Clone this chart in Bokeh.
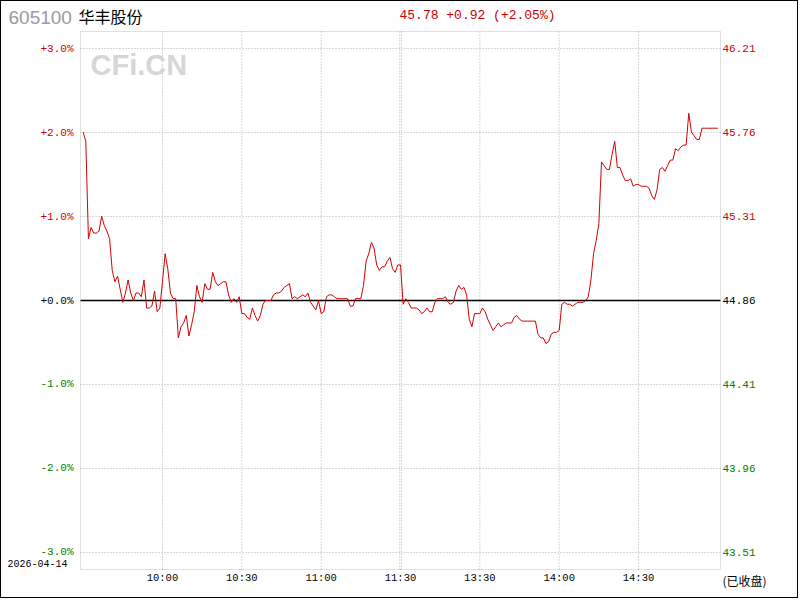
from bokeh.plotting import figure
from bokeh.models import Range1d, Label, LabelSet, ColumnDataSource, BoxAnnotation
from bokeh.core.properties import value
from bokeh.embed import file_html
from bokeh.resources import INLINE

# ---------------- data ----------------
stock_code = "605100"
stock_name = "华丰股份"
trade_date = "2026-04-14"
status_text = "(已收盘)"
prev_close = 44.86

minutes = list(range(241))  # 09:30 .. 11:30, 13:01 .. 15:00
prices = [
    45.76, 45.71, 45.19, 45.25, 45.22, 45.22, 45.23, 45.31, 45.26, 45.23,
    45.19, 45.02, 44.96, 44.99, 44.92, 44.85, 44.90, 44.97, 44.90, 44.86,
    44.90, 44.90, 44.88, 44.97, 44.82, 44.82, 44.83, 44.91, 44.80, 44.82,
    44.96, 45.11, 45.03, 44.90, 44.87, 44.87, 44.66, 44.72, 44.74, 44.78,
    44.67, 44.73, 44.80, 44.94, 44.88, 44.85, 44.95, 44.92, 44.92, 45.01,
    44.96, 44.94, 44.95, 44.96, 44.96, 44.89, 44.85, 44.87, 44.85, 44.88,
    44.79, 44.79, 44.77, 44.76, 44.82, 44.78, 44.75, 44.78, 44.84, 44.86,
    44.86, 44.86, 44.89, 44.90, 44.90, 44.91, 44.93, 44.94, 44.95, 44.87,
    44.88, 44.87, 44.88, 44.89, 44.88, 44.90, 44.85, 44.83, 44.81, 44.86,
    44.79, 44.80, 44.88, 44.89, 44.89, 44.88, 44.87, 44.87, 44.87, 44.87,
    44.87, 44.83, 44.83, 44.87, 44.87, 44.87, 44.94, 45.07, 45.11, 45.17,
    45.14, 45.05, 45.02, 45.04, 45.04, 45.07, 45.09, 45.03, 45.01, 45.05,
    45.05, 44.84, 44.87, 44.85, 44.82, 44.82, 44.82, 44.81, 44.79, 44.80,
    44.82, 44.80, 44.80, 44.85, 44.87, 44.87, 44.87, 44.88, 44.85, 44.84,
    44.85, 44.91, 44.94, 44.92, 44.93, 44.89, 44.76, 44.72, 44.79, 44.79,
    44.79, 44.82, 44.80, 44.76, 44.73, 44.70, 44.72, 44.74, 44.72, 44.73,
    44.74, 44.74, 44.74, 44.77, 44.78, 44.76, 44.75, 44.75, 44.75, 44.75,
    44.75, 44.75, 44.68, 44.66, 44.66, 44.63, 44.64, 44.68, 44.69, 44.69,
    44.70, 44.84, 44.85, 44.84, 44.84, 44.83, 44.84, 44.85, 44.85, 44.85,
    44.86, 44.88, 44.97, 45.11, 45.18, 45.27, 45.60, 45.58, 45.56, 45.56,
    45.64, 45.71, 45.57, 45.57, 45.53, 45.50, 45.50, 45.51, 45.47, 45.48,
    45.48, 45.47, 45.47, 45.47, 45.46, 45.42, 45.40, 45.45, 45.56, 45.57,
    45.55, 45.58, 45.61, 45.61, 45.67, 45.66, 45.68, 45.69, 45.69, 45.86,
    45.76, 45.74, 45.72, 45.72, 45.78, 45.78, 45.78, 45.78, 45.78, 45.78,
    45.78,
]

pct_ticks = [3, 2, 1, 0, -1, -2, -3]
time_ticks = [30, 60, 90, 120, 150, 180, 210]
time_labels = ["10:00", "10:30", "11:00", "11:30", "13:30", "14:00", "14:30"]
vgrid_ticks = [30, 60, 90, 119.7, 120.35, 150, 180, 210]

# ---------------- styling / layout ----------------
RED = "#cc0000"
GREEN = "#008000"
LINE_RED = "#d20000"
GRID = "#b0b0b0"
MONO = "Liberation Mono"
CJK = "Noto Sans CJK SC"

W, H = 798, 598                      # + 1px border each side = 800 x 600
M_LEFT, M_RIGHT, M_TOP, M_BOTTOM = 79, 79, 30, 30   # plot box margins in px
X0, X1 = -1, 241                     # plot box extent, minutes
Y0, Y1 = -3.2024, 3.2024             # plot box extent, percent

kx = (X1 - X0) / (W - M_LEFT - M_RIGHT)
ky = (Y1 - Y0) / (H - M_TOP - M_BOTTOM)
x_range = Range1d(X0 - M_LEFT * kx, X1 + M_RIGHT * kx)
y_range = Range1d(Y0 - M_BOTTOM * ky, Y1 + M_TOP * ky)

pct = [(v - prev_close) / prev_close * 100 for v in prices]

p = figure(width=W, height=H, output_backend="svg", toolbar_location=None, title=None,
           x_range=x_range, y_range=y_range,
           x_axis_location=None, y_axis_location=None,
           min_border=0, min_border_left=0, min_border_right=0,
           min_border_top=0, min_border_bottom=0,
           styles={"border": "1px solid #000000"})
p.background_fill_color = "white"
p.border_fill_color = "white"
p.outline_line_color = None
for g in p.grid:
    g.visible = False

# dotted grid inside the plot box
hticks = [t for t in pct_ticks if t != 0]
p.segment(x0=vgrid_ticks, y0=[Y0] * len(vgrid_ticks), x1=vgrid_ticks, y1=[Y1] * len(vgrid_ticks),
          line_color=GRID, line_dash="1 2", line_width=1)
p.segment(x0=[X0] * len(hticks), y0=hticks, x1=[X1] * len(hticks), y1=hticks,
          line_color=GRID, line_dash="1 2", line_width=1)

# plot box
p.add_layout(BoxAnnotation(left=X0, right=X1, bottom=Y0, top=Y1,
                           fill_alpha=0, line_color="#999999", line_width=1))

# zero line
p.segment(x0=[X0], y0=[0], x1=[X1], y1=[0], line_color="black", line_width=1.3)

# price line
p.line(minutes, pct, line_color=LINE_RED, line_width=1)

# axis labels (coloured by sign)
def sign_color(v):
    return RED if v > 0 else (GREEN if v < 0 else "black")

ysrc = ColumnDataSource(dict(
    y=pct_ticks,
    text=[f"{v:+.1f}%" for v in pct_ticks],
    color=[sign_color(v) for v in pct_ticks],
    rtext=[f"{prev_close * (1 + v / 100):.2f}" for v in pct_ticks],
))
p.add_layout(LabelSet(x=M_LEFT - 7, y="y", x_units="screen", text="text", source=ysrc,
                      text_color="color", text_align="right", text_baseline="middle",
                      text_font=value(MONO), text_font_size=value("11px")))
p.add_layout(LabelSet(x=W - M_RIGHT + 2, y="y", x_units="screen", text="rtext", source=ysrc,
                      text_color="color", text_align="left", text_baseline="middle",
                      text_font=value(MONO), text_font_size=value("11px")))

tsrc = ColumnDataSource(dict(x=time_ticks, text=time_labels))
p.add_layout(LabelSet(x="x", y=M_BOTTOM - 8, y_units="screen", text="text", source=tsrc,
                      text_color="black", text_align="center", text_baseline="middle",
                      text_font=value(MONO), text_font_size=value("10.5px")))

# header texts
last = prices[-1]
chg = last - prev_close
chg_pct = chg / prev_close * 100
header = f"{last:.2f} {chg:+.2f} ({chg_pct:+.2f}%)"

p.add_layout(Label(x=7, y=H - 16, x_units="screen", y_units="screen", text=stock_code,
                   text_font="Liberation Sans", text_font_size="19px", text_color="#9a9a9a",
                   text_baseline="middle", text_align="left"))
p.add_layout(Label(x=77, y=H - 14, x_units="screen", y_units="screen", text=stock_name,
                   text_font=CJK, text_font_size="16px", text_color="black",
                   text_baseline="middle", text_align="left"))
p.add_layout(Label(x=398, y=H - 14, x_units="screen", y_units="screen", text=header,
                   text_font=MONO, text_font_size="13px", text_color=RED,
                   text_baseline="middle", text_align="left"))
p.add_layout(Label(x=89, y=H - 63, x_units="screen", y_units="screen", text="CFi.CN",
                   text_font="Liberation Sans", text_font_style="bold", text_font_size="29px",
                   text_color="#d6d6d6", text_baseline="middle", text_align="left"))
p.add_layout(Label(x=6, y=36, x_units="screen", y_units="screen", text=trade_date,
                   text_font=MONO, text_font_size="10px", text_color="black",
                   text_baseline="middle", text_align="left"))
p.add_layout(Label(x=W - M_RIGHT + 2, y=19, x_units="screen", y_units="screen", text=status_text,
                   text_font=CJK, text_font_size="12px", text_color="black",
                   text_baseline="middle", text_align="left"))

open("out.html", "w").write(file_html(p, INLINE))
